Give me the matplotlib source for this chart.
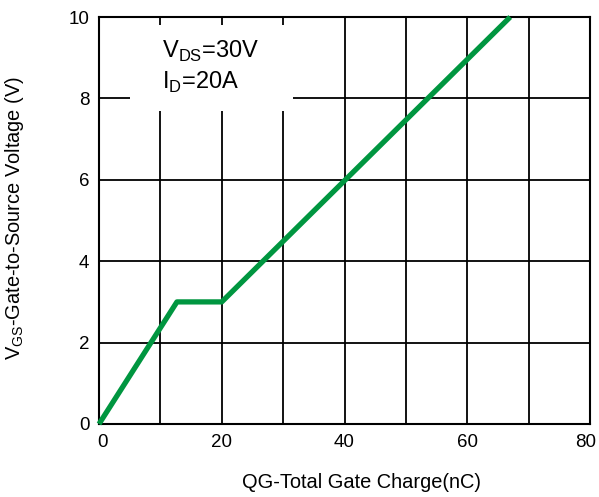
import matplotlib.pyplot as plt
from matplotlib.patches import Rectangle
from matplotlib.transforms import ScaledTranslation

plt.rcParams['font.family'] = ['Liberation Sans', 'DejaVu Sans']
plt.rcParams['mathtext.fontset'] = 'custom'
plt.rcParams['mathtext.rm'] = 'Liberation Sans'

# Gate charge curve (nC vs V)
qg = [0, 12.7, 20, 67]
vgs = [0, 3.0, 3.0, 10]

x_ticks = [0, 20, 40, 60, 80]
y_ticks = [0, 2, 4, 6, 8, 10]

fig = plt.figure(figsize=(5.99, 4.97), dpi=100)
ax = fig.add_axes([99 / 599, 1 - 424 / 497, 491 / 599, 407 / 497])

ax.set_xlim(0, 80)
ax.set_ylim(0, 10)
ax.set_xticks(range(0, 81, 10))
ax.set_xticklabels([str(t) if t in x_ticks else '' for t in range(0, 81, 10)])
ax.set_yticks(y_ticks)
ax.grid(True, color='black', linewidth=1.3, zorder=1)
ax.set_axisbelow(True)
ax.tick_params(length=0, labelsize=13.5, pad=7)
for s in ax.spines.values():
    s.set_linewidth(1.5)

# pull the end labels in a little so they stay inside the figure
labels = ax.get_xticklabels()
labels[0].set_transform(labels[0].get_transform() +
                        ScaledTranslation(0.04, 0, fig.dpi_scale_trans))
labels[-1].set_transform(labels[-1].get_transform() +
                         ScaledTranslation(-0.045, 0, fig.dpi_scale_trans))

# white box behind the test conditions
ax.add_patch(Rectangle((5.0, 7.7), 26.6, 2.1, facecolor='white',
                       edgecolor='none', zorder=2))
ax.text(10.2, 9.15, r'V$_{\mathrm{DS}}$=30V', fontsize=17, va='center', zorder=3)
ax.text(10.2, 8.4, r'I$_{\mathrm{D}}$=20A', fontsize=17, va='center', zorder=3)

ax.plot(qg, vgs, color='#009640', linewidth=3.8, solid_capstyle='butt',
        zorder=4, clip_on=False)

fig.text(362 / 599, 1 - 482 / 497, 'QG-Total Gate Charge(nC)', fontsize=14.4,
         ha='center', va='center')
fig.text(15 / 599, 1 - 218 / 497, r'V$_{\mathrm{GS}}$-Gate-to-Source Voltage (V)',
         fontsize=14.4, ha='center', va='center', rotation=90)

fig.savefig('out.png', dpi=100)
